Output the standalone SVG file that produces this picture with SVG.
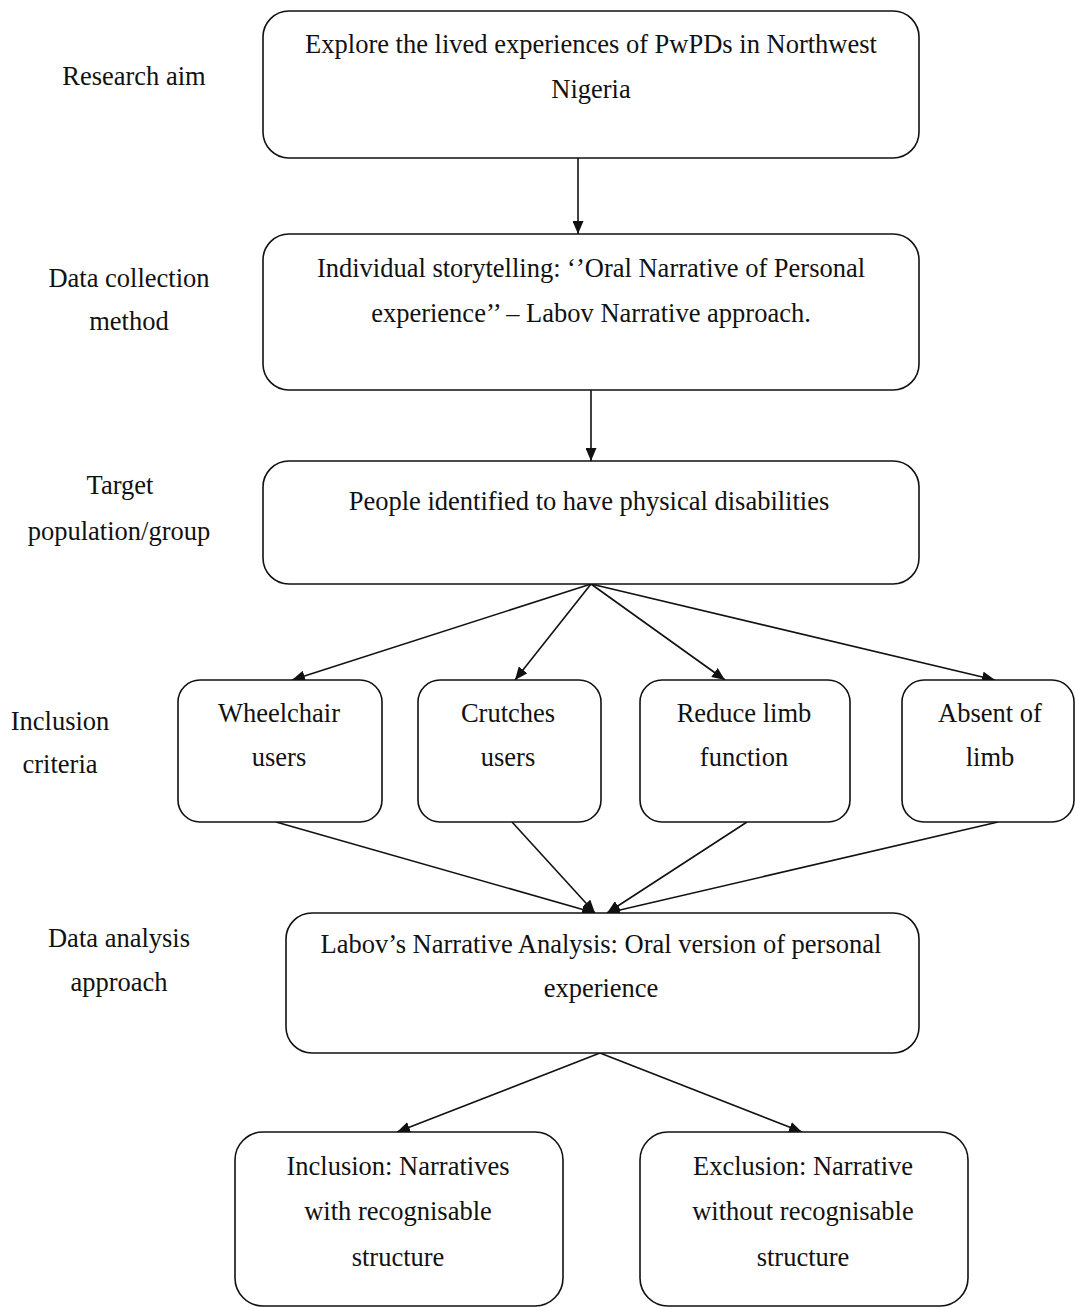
<svg xmlns="http://www.w3.org/2000/svg" width="1076" height="1307" viewBox="0 0 1076 1307">
<style>
  text { font-family: "Liberation Serif", "Times New Roman", serif; font-size: 26.5px; fill: #111; text-anchor: middle; }
  .box { fill: #fff; stroke: #111; stroke-width: 1.6; }
  .edge { fill: none; stroke: #111; stroke-width: 1.6; marker-end: url(#arrow); }
</style>
<defs>
  <marker id="arrow" markerUnits="userSpaceOnUse" markerWidth="14" markerHeight="11" refX="13" refY="5.5" orient="auto">
    <path d="M0,0 L13,5.5 L0,11 Z" fill="#111"/>
  </marker>
</defs>
<rect width="1076" height="1307" fill="#fff"/>

<g id="labels">
  <text x="134" y="85">Research aim</text>
  <text x="129" y="287">Data collection</text>
  <text x="129" y="330">method</text>
  <text x="120" y="494">Target</text>
  <text x="119" y="540">population/group</text>
  <text x="60" y="730">Inclusion</text>
  <text x="60" y="773">criteria</text>
  <text x="119" y="947">Data analysis</text>
  <text x="119" y="991">approach</text>
</g>

<g id="connectors">
  <line class="edge" x1="578" y1="157" x2="578" y2="234"/>
  <line class="edge" x1="591" y1="390" x2="591" y2="461"/>
  <line class="edge" x1="591" y1="584" x2="292" y2="680"/>
  <line class="edge" x1="591" y1="584" x2="515" y2="680"/>
  <line class="edge" x1="591" y1="584" x2="725" y2="680"/>
  <line class="edge" x1="591" y1="584" x2="995" y2="680"/>
  <line class="edge" x1="276" y1="822" x2="595" y2="913"/>
  <line class="edge" x1="512" y1="822" x2="595" y2="913"/>
  <line class="edge" x1="747" y1="822" x2="607" y2="913"/>
  <line class="edge" x1="998" y1="822" x2="607" y2="913"/>
  <line class="edge" x1="600" y1="1053" x2="397" y2="1132"/>
  <line class="edge" x1="600" y1="1053" x2="802" y2="1132"/>
</g>

<g id="aim">
  <rect class="box" x="263" y="11" width="656" height="147" rx="26"/>
  <text x="591" y="53">Explore the lived experiences of PwPDs in Northwest</text>
  <text x="591" y="98">Nigeria</text>
</g>

<g id="collection">
  <rect class="box" x="263" y="234" width="656" height="156" rx="26"/>
  <text x="591" y="277">Individual storytelling: ‘’Oral Narrative of Personal</text>
  <text x="591" y="322">experience’’ – Labov Narrative approach.</text>
</g>

<g id="target">
  <rect class="box" x="263" y="461" width="656" height="123" rx="26"/>
  <text x="589" y="510">People identified to have physical disabilities</text>
</g>

<g id="wheelchair">
  <rect class="box" x="178" y="680" width="204" height="142" rx="22"/>
  <text x="279" y="722">Wheelchair</text>
  <text x="279" y="766">users</text>
</g>

<g id="crutches">
  <rect class="box" x="418" y="680" width="183" height="142" rx="22"/>
  <text x="508" y="722">Crutches</text>
  <text x="508" y="766">users</text>
</g>

<g id="reduce">
  <rect class="box" x="640" y="680" width="210" height="142" rx="22"/>
  <text x="744" y="722">Reduce limb</text>
  <text x="744" y="766">function</text>
</g>

<g id="absent">
  <rect class="box" x="902" y="680" width="172" height="142" rx="22"/>
  <text x="990" y="722">Absent of</text>
  <text x="990" y="766">limb</text>
</g>

<g id="analysis">
  <rect class="box" x="286" y="913" width="633" height="140" rx="26"/>
  <text x="601" y="953">Labov’s Narrative Analysis: Oral version of personal</text>
  <text x="601" y="997">experience</text>
</g>

<g id="inclusion">
  <rect class="box" x="235" y="1132" width="328" height="174" rx="28"/>
  <text x="398" y="1175">Inclusion: Narratives</text>
  <text x="398" y="1220">with recognisable</text>
  <text x="398" y="1266">structure</text>
</g>

<g id="exclusion">
  <rect class="box" x="640" y="1132" width="328" height="174" rx="28"/>
  <text x="803" y="1175">Exclusion: Narrative</text>
  <text x="803" y="1220">without recognisable</text>
  <text x="803" y="1266">structure</text>
</g>
</svg>
